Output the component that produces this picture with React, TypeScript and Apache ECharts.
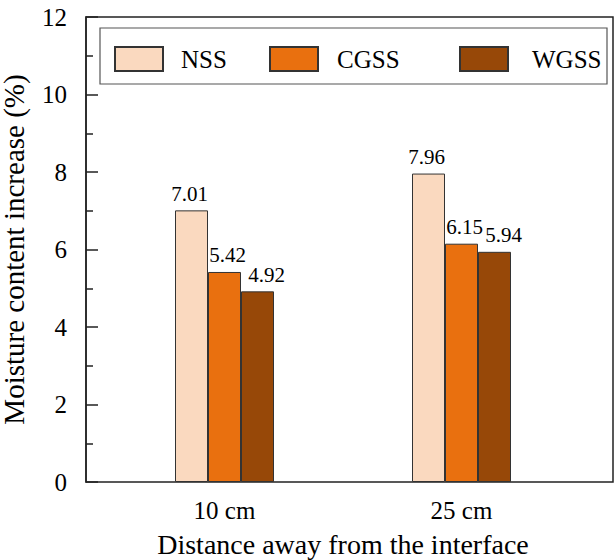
import React, { useEffect, useRef } from "react";
import * as echarts from "echarts";

const categories = ["10 cm", "25 cm"];
const seriesNames = ["NSS", "CGSS", "WGSS"];
const nssValues = [7.01, 7.96];
const cgssValues = [5.42, 6.15];
const wgssValues = [4.92, 5.94];
const yTicks = { min: 0, max: 12, interval: 2 };

const colors = ["#FAD9BF", "#E9700F", "#974808"];
const labelOffsets = [-2, 3, 9];
const legendLefts = [114, 269, 459];
const legendTextPad = [13, 14, 19];
const FONT = "Liberation Serif";

export default function App() {
  const ref = useRef<HTMLDivElement>(null);
  useEffect(() => {
    document.body.style.margin = "0";
    if (!ref.current) return;
    const chart = echarts.init(ref.current, undefined, { renderer: "svg" });
    const values = [nssValues, cgssValues, wgssValues];
    chart.setOption({
      animation: false,
      backgroundColor: "#ffffff",
      textStyle: { fontFamily: FONT, color: "#000" },
      grid: [
        {
          left: 86, right: 2, top: 17, bottom: 78, containLabel: false, outerBoundsMode: "none",
          show: true, borderColor: "#222", borderWidth: 1.5, backgroundColor: "transparent",
        },
        { left: 106, right: 35, top: 17, bottom: 78, containLabel: false, outerBoundsMode: "none" },
      ],
      xAxis: [
        { type: "value", gridIndex: 0, min: 0, max: 1, show: false },
        {
          type: "category",
          gridIndex: 1,
          data: categories,
          axisLine: { show: false },
          axisTick: { show: false },
          axisLabel: { fontSize: 25, color: "#000", fontFamily: FONT, margin: 16 },
          name: "Distance away from the interface",
          nameLocation: "middle",
          nameGap: 48,
          nameTextStyle: { fontSize: 28, color: "#000", fontFamily: FONT },
        },
      ],
      yAxis: [
        {
          type: "value",
          gridIndex: 0,
          min: yTicks.min,
          max: yTicks.max,
          interval: yTicks.interval,
          axisLine: { show: true, lineStyle: { color: "#222", width: 1.5 } },
          axisTick: { show: true, inside: true, length: 12, lineStyle: { color: "#222", width: 1.5 } },
          minorTick: { show: true, splitNumber: 2, length: 7, lineStyle: { color: "#222", width: 1.5 } },
          splitLine: { show: false },
          axisLabel: { fontSize: 25, color: "#000", fontFamily: FONT, margin: 19 },
          name: "Moisture content increase (%)",
          nameLocation: "middle",
          nameRotate: 90,
          nameGap: 60,
          nameTextStyle: { fontSize: 29, lineHeight: 24, color: "#000", fontFamily: FONT },
        },
        { type: "value", gridIndex: 1, min: yTicks.min, max: yTicks.max, show: false },
      ],
      legend: seriesNames.map((n, i) => ({
        data: [n],
        left: legendLefts[i],
        top: 46,
        padding: 0,
        icon: "rect",
        itemWidth: 48,
        itemHeight: 24,
        textStyle: { fontSize: 25, color: "#000", fontFamily: FONT, padding: [0, 0, 0, legendTextPad[i]] },
      })),
      graphic: [
        {
          type: "rect",
          shape: { x: 100, y: 28, width: 507, height: 56 },
          style: { fill: "none", stroke: "#555", lineWidth: 1.2 },
          z: 10,
        },
      ],
      series: seriesNames.map((n, i) => ({
        name: n,
        type: "bar",
        xAxisIndex: 1,
        yAxisIndex: 1,
        data: values[i],
        barWidth: 33,
        barGap: "0%",
        itemStyle: { color: colors[i], borderColor: "#333", borderWidth: 1 },
        label: {
          show: true,
          position: "top",
          distance: 6,
          offset: [labelOffsets[i], 0],
          fontSize: 21,
          color: "#000",
          fontFamily: FONT,
          formatter: (p: any) => p.value.toFixed(2),
        },
      })),
    });
    return () => chart.dispose();
  }, []);
  return <div ref={ref} style={{ width: 615, height: 560 }} />;
}
